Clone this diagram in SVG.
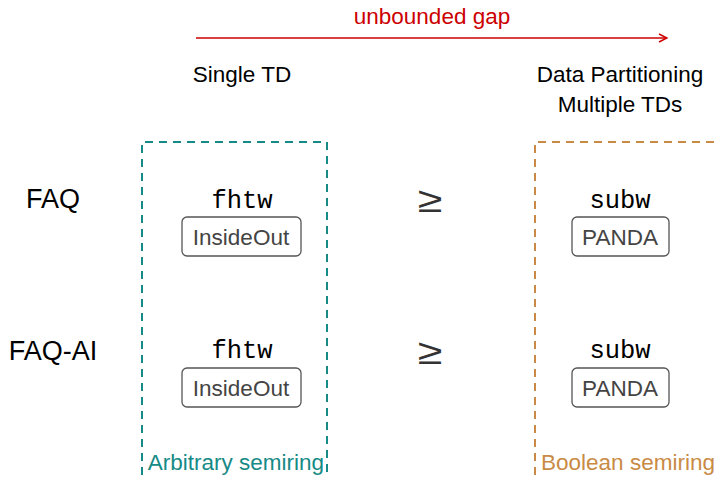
<svg xmlns="http://www.w3.org/2000/svg" width="719" height="481" viewBox="0 0 719 481">
<style>
.sans{font-family:"Liberation Sans",Arial,sans-serif;}
.lbl{font-size:22.5px;fill:#000;text-anchor:middle;}
.row{font-size:27px;fill:#000;text-anchor:middle;}
.mono{font-family:"Liberation Mono","Courier New",monospace;font-size:25.5px;fill:#000;text-anchor:middle;}
.box{fill:#fff;stroke:#555;stroke-width:1.3;}
.btxt{font-size:22.5px;fill:#444;text-anchor:middle;}
.geq{font-family:"Liberation Sans",Arial,sans-serif;font-size:31px;fill:#333;text-anchor:middle;}
</style>
<defs>
<marker id="ah" viewBox="0 0 10 10" refX="9" refY="5" markerWidth="10" markerHeight="10" markerUnits="userSpaceOnUse" orient="auto">
<path d="M1,1 L9,5 L1,9" fill="none" stroke="#cc0000" stroke-width="1.5"/>
</marker>
</defs>
<g id="connectors">
<line x1="196" y1="38" x2="667" y2="38" stroke="#cc0000" stroke-width="1.6" marker-end="url(#ah)"/>
</g>
<text class="sans lbl" x="432" y="24" style="fill:#cc0000">unbounded gap</text>
<text class="sans lbl" x="242" y="82">Single TD</text>
<text class="sans lbl" x="620" y="82">Data Partitioning</text>
<text class="sans lbl" x="620" y="112">Multiple TDs</text>
<g id="teal-region">
<path d="M142,475 L142,142 L327,142 L327,475" fill="none" stroke="#168a86" stroke-width="2" stroke-dasharray="8,6"/>
<text class="sans" x="236" y="470" font-size="22.5" fill="#168a86" text-anchor="middle">Arbitrary semiring</text>
</g>
<g id="orange-region">
<path d="M535,475 L535,142 L719,142" fill="none" stroke="#c98a45" stroke-width="2" stroke-dasharray="8,6"/>
<text class="sans" x="628" y="470" font-size="22.5" fill="#c98a45" text-anchor="middle">Boolean semiring</text>
</g>
<text class="sans row" x="53" y="208">FAQ</text>
<text class="sans row" x="53" y="360">FAQ-AI</text>
<text class="geq" transform="translate(430,212) scale(1.45,1.15)">≥</text>
<text class="geq" transform="translate(430,364) scale(1.45,1.15)">≥</text>
<g id="fhtw1">
<text class="mono" x="242" y="208">fhtw</text>
<rect class="box" x="182" y="217" width="119" height="39" rx="5"/>
<text class="sans btxt" x="241" y="245">InsideOut</text>
</g>
<g id="fhtw2">
<text class="mono" x="242" y="358">fhtw</text>
<rect class="box" x="182" y="368" width="119" height="39" rx="5"/>
<text class="sans btxt" x="241" y="396">InsideOut</text>
</g>
<g id="subw1">
<text class="mono" x="620" y="208">subw</text>
<rect class="box" x="572" y="217" width="97" height="39" rx="5"/>
<text class="sans btxt" x="620" y="245">PANDA</text>
</g>
<g id="subw2">
<text class="mono" x="620" y="358">subw</text>
<rect class="box" x="572" y="368" width="97" height="39" rx="5"/>
<text class="sans btxt" x="620" y="396">PANDA</text>
</g>
</svg>
